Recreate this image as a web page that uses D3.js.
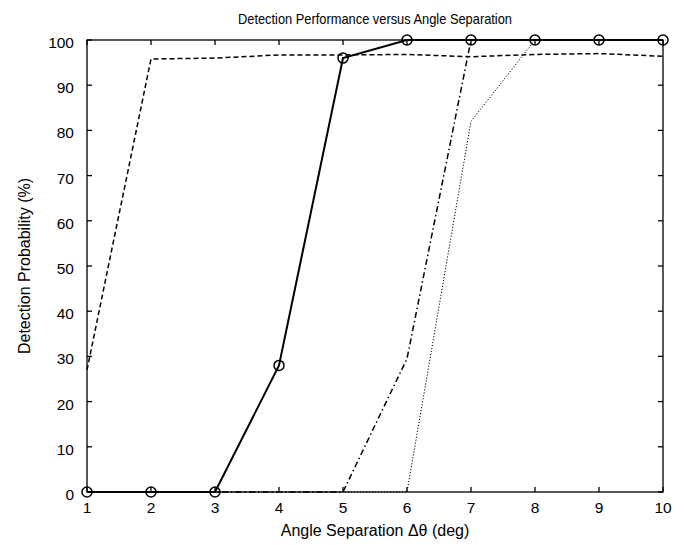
<!DOCTYPE html>
<html>
<head>
<meta charset="utf-8">
<script src="https://cdn.jsdelivr.net/npm/d3@7"></script>
<style>
  body { margin: 0; background: #fff; }
  text { font-family: "Liberation Sans", Arial, sans-serif; fill: #000; }
</style>
</head>
<body>
<script>
// chart values
const angles = [1, 2, 3, 4, 5, 6, 7, 8, 9, 10];
const solidCircle = [0, 0, 0, 28, 96, 100, 100, 100, 100, 100];
const dashed = [27, 95.8, 96, 96.7, 96.7, 96.8, 96.3, 96.8, 97, 96.4];
const dashDot = [0, 0, 0, 0, 0, 29.5, 100, 100, 100, 100];
const dotted = [0, 0, 0, 0, 0, 0, 82, 100, 100, 100];
const yTicks = [0, 10, 20, 30, 40, 50, 60, 70, 80, 90, 100];

const width = 684, height = 545;
const margin = {left: 87, right: 21, top: 40, bottom: 53};

let svg = d3.select('body').append('svg')
    .attr('width', width).attr('height', height);

let x = d3.scaleLinear().domain([1, 10]).range([margin.left, width - margin.right]);
let y = d3.scaleLinear().domain([0, 100]).range([height - margin.bottom, margin.top]);

// box with inward ticks on every side
let tick = 5;
let axisG = svg.append('g').attr('stroke', '#000').attr('stroke-width', 1.3);
axisG.append('rect')
    .attr('x', x(1)).attr('y', y(100))
    .attr('width', x(10) - x(1)).attr('height', y(0) - y(100))
    .attr('fill', 'none');

angles.forEach(function(a) {
    axisG.append('line').attr('x1', x(a)).attr('x2', x(a)).attr('y1', y(0)).attr('y2', y(0) - tick);
    axisG.append('line').attr('x1', x(a)).attr('x2', x(a)).attr('y1', y(100)).attr('y2', y(100) + tick);
});
yTicks.forEach(function(v) {
    axisG.append('line').attr('x1', x(1)).attr('x2', x(1) + tick).attr('y1', y(v)).attr('y2', y(v));
    axisG.append('line').attr('x1', x(10)).attr('x2', x(10) - tick).attr('y1', y(v)).attr('y2', y(v));
});

// tick labels
svg.append('g').selectAll('text').data(angles).enter().append('text')
    .attr('x', function(d) { return x(d); })
    .attr('y', y(0) + 21)
    .attr('text-anchor', 'middle')
    .style('font-size', '15.5px')
    .text(function(d) { return d; });

svg.append('g').selectAll('text').data(yTicks).enter().append('text')
    .attr('x', x(1) - 13)
    .attr('y', function(d) { return y(d) + 8; })
    .attr('text-anchor', 'end')
    .style('font-size', '15.5px')
    .text(function(d) { return d; });

// titles (the title is set in a narrower face in the original)
svg.append('text')
    .attr('x', (x(1) + x(10)) / 2).attr('y', 24)
    .attr('text-anchor', 'middle').style('font-size', '14.5px')
    .attr('textLength', 274).attr('lengthAdjust', 'spacingAndGlyphs')
    .text('Detection Performance versus Angle Separation');

svg.append('text')
    .attr('x', (x(1) + x(10)) / 2).attr('y', 536)
    .attr('text-anchor', 'middle').style('font-size', '16px')
    .text('Angle Separation Δθ (deg)');

svg.append('text')
    .attr('transform', 'translate(30,' + ((y(0) + y(100)) / 2) + ') rotate(-90)')
    .attr('text-anchor', 'middle').style('font-size', '16px')
    .text('Detection Probability (%)');

// series
let line = d3.line()
    .x(function(d, i) { return x(angles[i]); })
    .y(function(d) { return y(d); });

let series = [
    {values: dotted, dash: '1.2,1.8', width: 1},
    {values: dashDot, dash: '6,3,1.5,3', width: 1.5},
    {values: dashed, dash: '5,3', width: 1.5},
    {values: solidCircle, dash: null, width: 2}
];

svg.append('g').selectAll('path').data(series).enter().append('path')
    .attr('d', function(d) { return line(d.values); })
    .attr('fill', 'none')
    .attr('stroke', '#000')
    .attr('stroke-width', function(d) { return d.width; })
    .attr('stroke-dasharray', function(d) { return d.dash; });

svg.append('g').selectAll('circle').data(solidCircle).enter().append('circle')
    .attr('cx', function(d, i) { return x(angles[i]); })
    .attr('cy', function(d) { return y(d); })
    .attr('r', 5)
    .attr('fill', 'none')
    .attr('stroke', '#000')
    .attr('stroke-width', 1.5);
</script>
</body>
</html>
